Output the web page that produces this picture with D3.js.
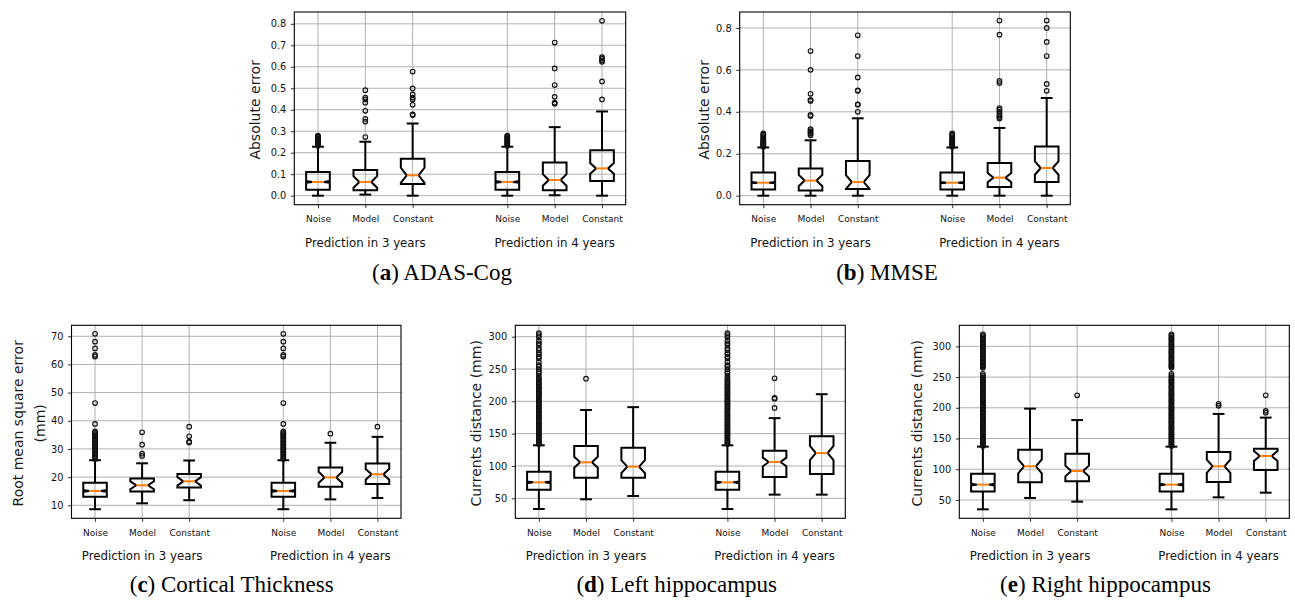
<!DOCTYPE html>
<html><head><meta charset="utf-8">
<script src="https://cdn.jsdelivr.net/npm/d3@7"></script>
<style>
html,body{margin:0;padding:0;background:#fff;}
svg{display:block;}
</style></head><body>
<svg id="fig" width="1295" height="602"></svg>
<script>
// ---------- shared categories ----------
const categories = ["Noise", "Model", "Constant"];
const groupLabels = ["Prediction in 3 years", "Prediction in 4 years"];
const boxPositions = [1, 2, 3, 5, 6, 7];
const groupCenters = [2, 6];

// box stats per box: [whiskerLow, q1, notchLow, median, notchHigh, q3, whiskerHigh]
// ---------- (a) ADAS-Cog ----------
const adasTicks = [0.0, 0.1, 0.2, 0.3, 0.4, 0.5, 0.6, 0.7, 0.8];
const adasBoxes = [
  [0.000, 0.028, 0.060, 0.064, 0.068, 0.110, 0.228],
  [0.005, 0.025, 0.037, 0.064, 0.091, 0.119, 0.251],
  [0.000, 0.054, 0.060, 0.095, 0.130, 0.172, 0.336],
  [0.000, 0.028, 0.060, 0.064, 0.068, 0.110, 0.228],
  [0.002, 0.025, 0.046, 0.073, 0.100, 0.155, 0.319],
  [0.000, 0.068, 0.102, 0.127, 0.152, 0.211, 0.392]
];
const adasNoiseOutliers = [0.232, 0.236, 0.240, 0.244, 0.248, 0.252, 0.256, 0.260, 0.264, 0.268, 0.272, 0.276, 0.280];
const adasModel3Outliers = [0.273, 0.345, 0.357, 0.395, 0.433, 0.448, 0.457, 0.491];
const adasConst3Outliers = [0.375, 0.378, 0.423, 0.448, 0.457, 0.471, 0.499, 0.578];
const adasModel4Outliers = [0.428, 0.433, 0.460, 0.515, 0.592, 0.713];
const adasConst4Outliers = [0.448, 0.532, 0.623, 0.630, 0.638, 0.645, 0.814];

// ---------- (b) MMSE ----------
const mmseTicks = [0.0, 0.2, 0.4, 0.6, 0.8];
const mmseBoxes = [
  [0.000, 0.029, 0.059, 0.062, 0.065, 0.110, 0.230],
  [0.000, 0.025, 0.045, 0.072, 0.099, 0.130, 0.264],
  [0.000, 0.032, 0.033, 0.065, 0.098, 0.165, 0.369],
  [0.000, 0.029, 0.059, 0.062, 0.065, 0.110, 0.230],
  [0.000, 0.041, 0.064, 0.086, 0.108, 0.156, 0.323],
  [0.000, 0.065, 0.100, 0.132, 0.164, 0.234, 0.466]
];
const mmseNoiseOutliers = [0.233, 0.237, 0.241, 0.245, 0.249, 0.253, 0.257, 0.262, 0.267, 0.272, 0.278, 0.285, 0.291, 0.297];
const mmseModel3Outliers = [0.288, 0.295, 0.300, 0.306, 0.313, 0.318, 0.380, 0.385, 0.452, 0.457, 0.486, 0.600, 0.690];
const mmseConst3Outliers = [0.400, 0.434, 0.436, 0.500, 0.502, 0.564, 0.666, 0.765];
const mmseModel4Outliers = [0.368, 0.375, 0.382, 0.390, 0.400, 0.410, 0.418, 0.537, 0.547, 0.768, 0.835];
const mmseConst4Outliers = [0.500, 0.533, 0.666, 0.733, 0.800, 0.835];

// ---------- (c) Cortical Thickness ----------
const cortTicks = [10, 20, 30, 40, 50, 60, 70];
const cortBoxes = [
  [8.6, 13.0, 14.8, 15.1, 15.4, 18.0, 26.0],
  [10.7, 14.9, 15.7, 17.1, 18.5, 19.5, 24.9],
  [11.8, 16.3, 17.0, 18.5, 20.0, 21.1, 25.9],
  [8.6, 13.0, 14.8, 15.1, 15.4, 18.0, 26.0],
  [12.1, 16.6, 17.9, 19.9, 21.9, 23.4, 32.2],
  [12.6, 17.6, 19.1, 21.0, 22.9, 24.8, 34.3]
];
const cortNoiseOutliers = [26.4, 26.9, 27.4, 27.9, 28.4, 28.9, 29.4, 29.9, 30.4, 30.9, 31.4, 31.9, 32.4, 32.9, 33.4, 33.9, 34.4, 34.9, 35.3, 35.7, 36.2, 38.9, 46.3, 62.8, 63.4, 65.7, 68.1, 70.9];
const cortModel3Outliers = [27.5, 28.3, 31.5, 35.9];
const cortConst3Outliers = [32.3, 32.6, 34.5, 37.9];
const cortModel4Outliers = [35.4];
const cortConst4Outliers = [37.9];

// ---------- (d) Left hippocampus ----------
const leftTicks = [50, 100, 150, 200, 250, 300];
const leftBoxes = [
  [33.5, 63.4, 73.2, 74.7, 76.2, 91.2, 132.0],
  [48.5, 82.0, 97.2, 105.7, 114.2, 131.0, 186.6],
  [53.6, 82.0, 89.0, 99.0, 109.0, 128.4, 191.0],
  [33.5, 63.4, 73.2, 74.7, 76.2, 91.2, 132.0],
  [55.7, 83.0, 99.5, 106.2, 112.9, 123.7, 174.0],
  [55.7, 87.6, 109.0, 120.0, 131.0, 145.9, 211.0]
];
const leftNoiseOutliers = [134, 136, 138, 140, 142.5, 145, 147, 149, 151, 153, 155, 157, 159.5, 162, 164, 166, 168, 170.5, 173, 175, 177, 179, 181, 183.5, 186, 188, 190, 192, 194.5, 197, 199, 201, 203, 205.5, 208, 210, 212, 214, 216.5, 219, 221, 223, 225, 227.5, 230, 233, 235.5, 239, 243.3, 245.8, 249.5, 253.5, 256, 261, 266.5, 269, 272.7, 275, 279.3, 282, 287, 289.7, 293.7, 299, 302.5, 305.5];
const leftModel3Outliers = [235.0];
const leftConst3Outliers = [];
const leftModel4Outliers = [189.7, 204.0, 205.2, 235.6];
const leftConst4Outliers = [];

// ---------- (e) Right hippocampus ----------
const rightTicks = [50, 100, 150, 200, 250, 300];
const rightBoxes = [
  [34.8, 63.6, 73.5, 75.0, 76.5, 92.8, 136.8],
  [53.3, 78.7, 93.4, 104.8, 116.2, 131.9, 198.6],
  [47.3, 80.4, 88.5, 97.2, 105.9, 125.4, 180.0],
  [34.8, 63.6, 73.5, 75.0, 76.5, 92.8, 136.8],
  [54.3, 79.3, 94.0, 104.8, 115.6, 128.0, 190.0],
  [61.9, 98.8, 113.6, 121.6, 129.6, 133.5, 184.0]
];
const rightNoiseOutliers = [138, 140, 142, 144, 146, 148.5, 151, 153, 155, 157, 159, 161.5, 164, 166, 168, 170, 172.5, 175, 177, 179, 181, 183.5, 186, 188, 190, 192, 194.5, 197, 199, 201, 203, 205.5, 208, 210, 212, 214, 216.5, 219, 221, 223, 225, 227.5, 230, 232, 234, 236, 238.5, 241, 243, 245, 247, 249.5, 252, 255, 265, 267, 269, 271, 273.5, 276, 278, 280, 282, 284.5, 287, 289, 291, 293, 295.5, 298, 300, 302, 304, 306.5, 309, 311, 313, 315, 317.5, 319.5];
const rightModel3Outliers = [];
const rightConst3Outliers = [220.3];
const rightModel4Outliers = [203.5, 206.5];
const rightConst4Outliers = [192.0, 195.0, 220.3];

// ---------- layout table ----------
const panels = [
  { boxes: adasBoxes, ticks: adasTicks, fmt: d3.format(".1f"),
    outliers: [adasNoiseOutliers, adasModel3Outliers, adasConst3Outliers, adasNoiseOutliers, adasModel4Outliers, adasConst4Outliers],
    domain: [-0.042, 0.855], frame: {x: 294.3, y: 12, w: 331.4, h: 192.7},
    ylabel: ["Absolute error"], ylabelX: [259.5], letter: "a", title: "ADAS-Cog", capX: 442, capY: 280 },
  { boxes: mmseBoxes, ticks: mmseTicks, fmt: d3.format(".1f"),
    outliers: [mmseNoiseOutliers, mmseModel3Outliers, mmseConst3Outliers, mmseNoiseOutliers, mmseModel4Outliers, mmseConst4Outliers],
    domain: [-0.043, 0.876], frame: {x: 739.7, y: 12, w: 330.6, h: 192.7},
    ylabel: ["Absolute error"], ylabelX: [708.5], letter: "b", title: "MMSE", capX: 887, capY: 280 },
  { boxes: cortBoxes, ticks: cortTicks, fmt: d3.format("d"),
    outliers: [cortNoiseOutliers, cortModel3Outliers, cortConst3Outliers, cortNoiseOutliers, cortModel4Outliers, cortConst4Outliers],
    domain: [5.38, 73.9], frame: {x: 71.5, y: 325.3, w: 329.5, h: 193},
    ylabel: ["Root mean square error", "(mm)"], ylabelX: [23, 45], letter: "c", title: "Cortical Thickness", capX: 231.7, capY: 591.5 },
  { boxes: leftBoxes, ticks: leftTicks, fmt: d3.format("d"),
    outliers: [leftNoiseOutliers, leftModel3Outliers, leftConst3Outliers, leftNoiseOutliers, leftModel4Outliers, leftConst4Outliers],
    domain: [19.1, 317.6], frame: {x: 515.3, y: 325.3, w: 330, h: 193},
    ylabel: ["Currents distance (mm)"], ylabelX: [480.5], letter: "d", title: "Left hippocampus", capX: 676.7, capY: 591.5 },
  { boxes: rightBoxes, ticks: rightTicks, fmt: d3.format("d"),
    outliers: [rightNoiseOutliers, rightModel3Outliers, rightConst3Outliers, rightNoiseOutliers, rightModel4Outliers, rightConst4Outliers],
    domain: [20.2, 334.2], frame: {x: 959.3, y: 325.3, w: 330, h: 193},
    ylabel: ["Currents distance (mm)"], ylabelX: [921.5], letter: "e", title: "Right hippocampus", capX: 1105.5, capY: 591.5 }
];

const svg = d3.select("#fig");
svg.append("rect").attr("width", 1295).attr("height", 602).attr("fill", "#fff");
const SANS = "DejaVu Sans, sans-serif";

panels.forEach(p => {
  const f = p.frame;
  const g = svg.append("g").attr("transform", `translate(${f.x},${f.y})`);
  const x = d3.scaleLinear().domain([0.5, 7.5]).range([0, f.w]);
  const y = d3.scaleLinear().domain(p.domain).range([f.h, 0]);

  // grid
  g.append("g").selectAll("line").data(boxPositions).join("line")
    .attr("x1", d => x(d)).attr("x2", d => x(d)).attr("y1", 0).attr("y2", f.h)
    .attr("stroke", "#b0b0b0").attr("stroke-width", 1);
  g.append("g").selectAll("line").data(p.ticks).join("line")
    .attr("x1", 0).attr("x2", f.w).attr("y1", d => y(d)).attr("y2", d => y(d))
    .attr("stroke", "#b0b0b0").attr("stroke-width", 1);

  // axes
  const ya = g.append("g").call(d3.axisLeft(y).tickValues(p.ticks).tickFormat(p.fmt).tickSize(3.5).tickPadding(4.5));
  ya.select(".domain").remove();
  ya.selectAll("text").attr("font-family", SANS).attr("font-size", 9.8).attr("fill", "#111");
  ya.selectAll("line").attr("stroke", "#000").attr("stroke-width", 0.8);

  const xa = g.append("g").attr("transform", `translate(0,${f.h})`)
    .call(d3.axisBottom(x).tickValues(boxPositions).tickFormat((d, i) => categories[i % 3]).tickSize(3.5).tickPadding(7.7));
  xa.select(".domain").remove();
  xa.selectAll("text").attr("font-family", SANS).attr("font-size", 9).attr("fill", "#111");
  xa.selectAll("line").attr("stroke", "#000").attr("stroke-width", 0.8);

  // group labels
  g.selectAll("text.grp").data(groupLabels).join("text")
    .attr("x", (d, i) => x(groupCenters[i])).attr("y", f.h + 41.8)
    .attr("text-anchor", "middle").attr("font-family", SANS).attr("font-size", 11.8)
    .attr("fill", "#111").text(d => d);

  // boxes
  const hw = x(1.25) - x(1);      // half box width (box width 0.5)
  const nw = x(1.125) - x(1);     // notch / cap half width
  p.boxes.forEach((b, i) => {
    const cx = x(boxPositions[i]);
    const [lo, q1, cil, med, cih, q3, hi] = b;
    const bg = g.append("g");
    // whiskers
    bg.append("line").attr("x1", cx).attr("x2", cx).attr("y1", y(q1)).attr("y2", y(lo))
      .attr("stroke", "#000").attr("stroke-width", 2);
    bg.append("line").attr("x1", cx).attr("x2", cx).attr("y1", y(q3)).attr("y2", y(hi))
      .attr("stroke", "#000").attr("stroke-width", 2);
    [lo, hi].forEach(v => bg.append("line").attr("x1", cx - nw).attr("x2", cx + nw)
      .attr("y1", y(v)).attr("y2", y(v)).attr("stroke", "#000").attr("stroke-width", 2));
    // notched box
    const pts = [
      [cx - hw, y(q1)], [cx + hw, y(q1)], [cx + hw, y(cil)], [cx + nw, y(med)], [cx + hw, y(cih)],
      [cx + hw, y(q3)], [cx - hw, y(q3)], [cx - hw, y(cih)], [cx - nw, y(med)], [cx - hw, y(cil)]
    ];
    bg.append("path").attr("d", d3.line()(pts) + "Z")
      .attr("fill", "none").attr("stroke", "#000").attr("stroke-width", 2).attr("stroke-linejoin", "miter");
    // median
    bg.append("line").attr("x1", cx - nw).attr("x2", cx + nw).attr("y1", y(med)).attr("y2", y(med))
      .attr("stroke", "#ff7f0e").attr("stroke-width", 2);
    // fliers
    bg.selectAll("circle").data(p.outliers[i]).join("circle")
      .attr("cx", cx).attr("cy", d => y(d)).attr("r", 2.3)
      .attr("fill", "none").attr("stroke", "#111").attr("stroke-width", 1.15);
  });

  // frame
  g.append("rect").attr("x", 0).attr("y", 0).attr("width", f.w).attr("height", f.h)
    .attr("fill", "none").attr("stroke", "#000").attr("stroke-width", 1.1);

  // y label
  const cy = f.y + f.h / 2 + 1.5;
  p.ylabel.forEach((t, k) => {
    svg.append("text").attr("transform", `translate(${p.ylabelX[k]},${cy}) rotate(-90)`)
      .attr("text-anchor", "middle").attr("font-family", SANS).attr("font-size", 14)
      .attr("fill", "#1a1a1a").text(t);
  });

  // caption
  const cap = svg.append("text").attr("x", p.capX).attr("y", p.capY).attr("text-anchor", "middle")
    .attr("font-family", "Liberation Serif, DejaVu Serif, serif").attr("font-size", 23).attr("fill", "#000");
  cap.append("tspan").text("(");
  cap.append("tspan").attr("font-weight", "bold").text(p.letter);
  cap.append("tspan").text(") " + p.title);
});
</script>
</body></html>
